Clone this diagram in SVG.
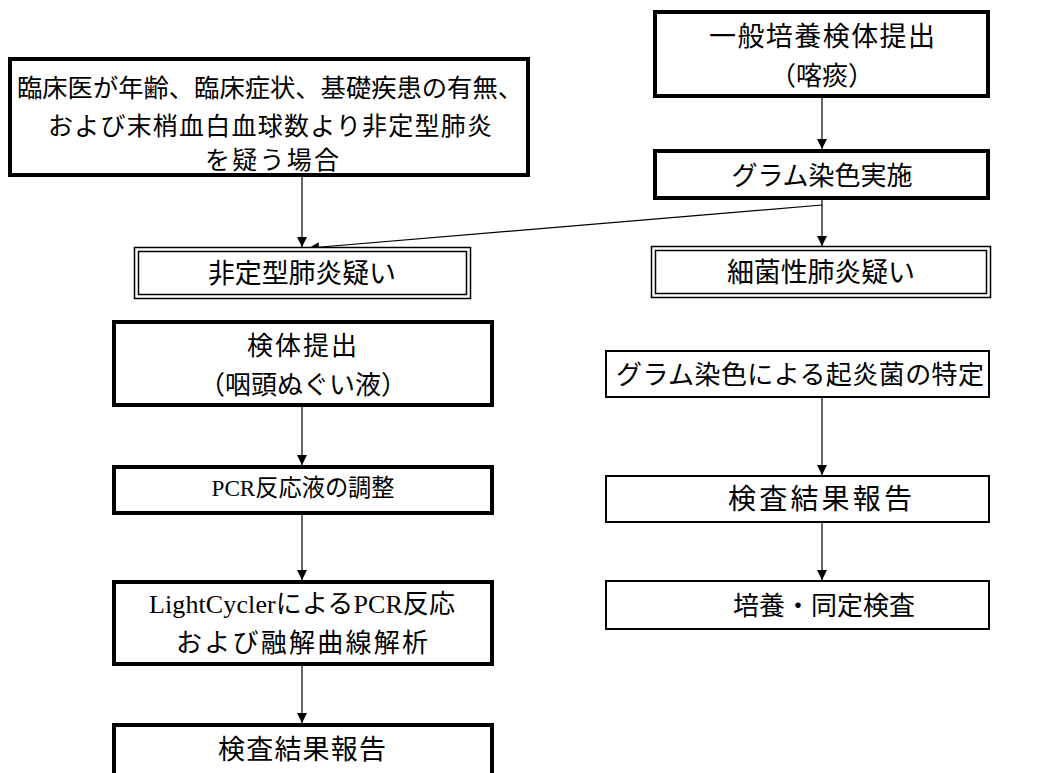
<svg xmlns="http://www.w3.org/2000/svg" width="1038" height="773" viewBox="0 0 1038 773">
<style>
  .thick { fill: #fff; stroke: #000; stroke-width: 4; }
  .thin { fill: #fff; stroke: #000; stroke-width: 2; }
  .dbl { fill: #fff; stroke: #000; stroke-width: 1.5; }
  .t { font-family: "Liberation Serif", "Noto Sans CJK JP", serif; font-size: 26px; fill: #000; text-anchor: middle; dominant-baseline: central; }
  .j { font-family: "Noto Sans CJK JP", sans-serif; }
  .s24 { font-size: 24px; }
  .s25 { font-size: 25px; }
  .s27 { font-size: 27px; }
  .s28 { font-size: 28px; }
  .conn { stroke: #000; stroke-width: 1.2; fill: none; marker-end: url(#arr); }
</style>
<defs>
  <marker id="arr" viewBox="0 0 10 10" refX="10" refY="5" markerWidth="10" markerHeight="10" markerUnits="userSpaceOnUse" orient="auto">
    <path d="M0,0 L10,5 L0,10 z" fill="#000"/>
  </marker>
</defs>
<rect width="1038" height="773" fill="#fff"/>
<g id="connectors">
  <line class="conn" x1="302" y1="177" x2="302" y2="247"/>
  <line class="conn" x1="822" y1="98" x2="822" y2="149"/>
  <line class="conn" x1="822" y1="200" x2="822" y2="246"/>
  <line class="conn" x1="822" y1="205" x2="309" y2="248"/>
  <line class="conn" x1="302" y1="407" x2="302" y2="465"/>
  <line class="conn" x1="302" y1="515" x2="302" y2="580"/>
  <line class="conn" x1="302" y1="666" x2="302" y2="723"/>
  <line class="conn" x1="822" y1="398" x2="822" y2="475"/>
  <line class="conn" x1="822" y1="523" x2="822" y2="580"/>
</g>
<g id="n1">
  <rect class="thick" x="10" y="59" width="518" height="116"/>
  <text class="t j s25" x="270" y="86" textLength="506" lengthAdjust="spacingAndGlyphs">臨床医が年齢、臨床症状、基礎疾患の有無、</text>
  <text class="t j s25" x="270" y="124" textLength="444" lengthAdjust="spacing">および末梢血白血球数より非定型肺炎</text>
  <text class="t j s25" x="272" y="158" textLength="134" lengthAdjust="spacing">を疑う場合</text>
</g>
<g id="n2">
  <rect class="thick" x="655" y="12" width="333" height="84"/>
  <text class="t j s27" x="822" y="34" textLength="226" lengthAdjust="spacing">一般培養検体提出</text>
  <text class="t j" x="822" y="73">（喀痰）</text>
</g>
<g id="n3">
  <rect class="thick" x="655" y="151" width="333" height="47"/>
  <text class="t j" x="822" y="173">グラム染色実施</text>
</g>
<g id="n4">
  <rect class="dbl" x="134.5" y="247.5" width="336" height="51"/>
  <rect class="dbl" x="138.5" y="251.5" width="328" height="43"/>
  <text class="t j s27" x="302" y="271" textLength="188" lengthAdjust="spacing">非定型肺炎疑い</text>
</g>
<g id="n5">
  <rect class="dbl" x="651.5" y="246.5" width="339" height="51"/>
  <rect class="dbl" x="655.5" y="250.5" width="331" height="43"/>
  <text class="t j s27" x="821" y="270" textLength="188" lengthAdjust="spacing">細菌性肺炎疑い</text>
</g>
<g id="n6">
  <rect class="thick" x="114" y="322" width="378" height="83"/>
  <text class="t j" x="302" y="343" textLength="110" lengthAdjust="spacing">検体提出</text>
  <text class="t j" x="303" y="382">（咽頭ぬぐい液）</text>
</g>
<g id="n7">
  <rect class="thick" x="114" y="467" width="378" height="46"/>
  <text class="t s24" x="303" y="488" textLength="183" lengthAdjust="spacingAndGlyphs">PCR反応液の調整</text>
</g>
<g id="n8">
  <rect class="thick" x="114" y="582" width="378" height="82"/>
  <text class="t" x="302" y="604" textLength="306" lengthAdjust="spacing">LightCyclerによるPCR反応</text>
  <text class="t j" x="302" y="640" textLength="252" lengthAdjust="spacing">および融解曲線解析</text>
</g>
<g id="n9">
  <rect class="thick" x="114" y="725" width="378" height="60"/>
  <text class="t j s27" x="302" y="747" textLength="168" lengthAdjust="spacing">検査結果報告</text>
</g>
<g id="n10">
  <rect class="thin" x="606" y="351" width="383" height="46"/>
  <text class="t j" x="800" y="372" textLength="368" lengthAdjust="spacing">グラム染色による起炎菌の特定</text>
</g>
<g id="n11">
  <rect class="thin" x="606" y="476" width="383" height="46"/>
  <text class="t j s28" x="820" y="497" textLength="184" lengthAdjust="spacing">検査結果報告</text>
</g>
<g id="n12">
  <rect class="thin" x="606" y="581" width="383" height="48"/>
  <text class="t j" x="824" y="603">培養・同定検査</text>
</g>
</svg>
